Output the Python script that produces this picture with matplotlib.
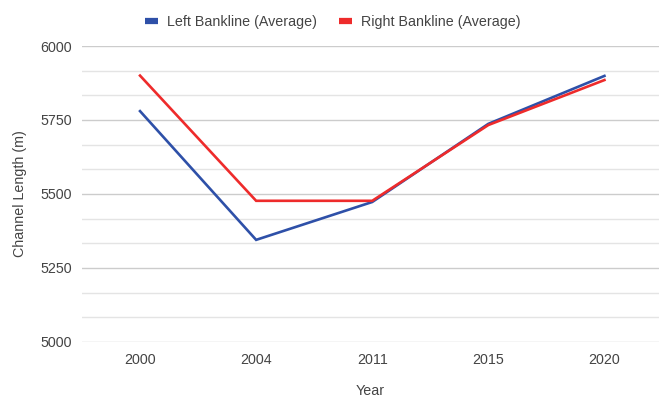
import numpy as np
from matplotlib import pyplot as plt
from matplotlib.ticker import MultipleLocator

plt.rcParams['font.family'] = ['Liberation Sans', 'DejaVu Sans']

# ---------------- data ----------------
years = ["2000", "2004", "2011", "2015", "2020"]
left_bank = [5780, 5345, 5473, 5737, 5899]
right_bank = [5900, 5477, 5477, 5733, 5885]

col_left = "#2e50a8"
col_right = "#ee2b2b"
txt_col = "#444444"
fs = 10.3

fig = plt.figure(figsize=(6.59, 3.99), dpi=100)
ax = fig.add_axes([0.1244, 0.1429, 0.8756, 0.7418])

x = np.arange(len(years))
ax.plot(x, left_bank, color=col_left, lw=1.9, label="Left Bankline (Average)",
        solid_joinstyle="miter", zorder=3)
ax.plot(x, right_bank, color=col_right, lw=1.9, label="Right Bankline (Average)",
        solid_joinstyle="miter", zorder=4)

ax.set_xlim(-0.5, 4.47)
ax.set_ylim(5000, 6000)
ax.set_xticks(x)
ax.set_xticklabels(years)
ax.yaxis.set_major_locator(MultipleLocator(250))
ax.yaxis.set_minor_locator(MultipleLocator(250 / 3))

ax.grid(axis="y", which="major", color="#cccccc", lw=1.0, zorder=0)
ax.grid(axis="y", which="minor", color="#e4e4e4", lw=1.0, zorder=0)
for s in ax.spines.values():
    s.set_visible(False)
ax.tick_params(axis="both", which="both", length=0, labelsize=fs, colors=txt_col)
ax.tick_params(axis="x", pad=8)
ax.tick_params(axis="y", pad=7)

ax.set_xlabel("Year", fontsize=fs, color=txt_col, labelpad=12)
ax.set_ylabel("Channel Length (m)", fontsize=fs, color=txt_col, labelpad=10)

leg = fig.legend(loc="upper center", bbox_to_anchor=(0.505, 0.995), ncol=2, frameon=False,
                 fontsize=fs, handlelength=0.9, handletextpad=0.6, columnspacing=1.6)
for h in leg.get_lines():
    h.set_linewidth(4.5)
    h.set_solid_capstyle("butt")
for t in leg.get_texts():
    t.set_color(txt_col)

fig.savefig("out.png", dpi=100)
